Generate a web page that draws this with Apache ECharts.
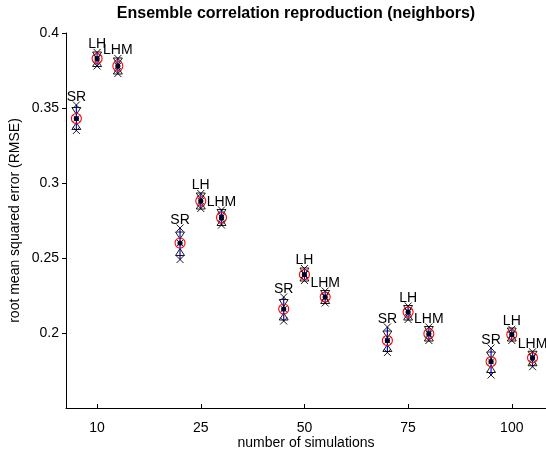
<!DOCTYPE html>
<html>
<head>
<meta charset="utf-8">
<script src="https://cdn.jsdelivr.net/npm/echarts@6/dist/echarts.min.js"></script>
<style>
  html, body { margin: 0; padding: 0; background: #fff; }
  #chart { width: 546px; height: 450px; }
</style>
</head>
<body>
<div id="chart"></div>
<script>
// Tick labels for the simulation-count groups (placed at positions 1..5)
const xTickPositions = [1, 2, 3, 4, 5];
const xTickLabels = ['10', '25', '50', '75', '100'];
const yTickValues = [0.2, 0.25, 0.3, 0.35, 0.4];

// Sampling methods
const methods = ['SR', 'LH', 'LHM'];

// x position of each method within a group
const srX  = [0.8, 1.8, 2.8, 3.8, 4.8];
const lhX  = [1, 2, 3, 4, 5];
const lhmX = [1.2, 2.2, 3.2, 4.2, 5.2];

// RMSE statistics per method: centre, upper/lower quantile, max, min
const srMean  = [0.343, 0.260, 0.216, 0.195, 0.181];
const srHi    = [0.348, 0.265, 0.220, 0.199, 0.185];
const srLo    = [0.338, 0.254, 0.211, 0.190, 0.176];
const srMax   = [0.352, 0.270, 0.224, 0.204, 0.190];
const srMin   = [0.335, 0.249, 0.208, 0.187, 0.172];

const lhMean  = [0.383, 0.288, 0.239, 0.214, 0.199];
const lhHi    = [0.385, 0.291, 0.241, 0.216, 0.201];
const lhLo    = [0.380, 0.285, 0.237, 0.211, 0.197];
const lhMax   = [0.387, 0.293, 0.243, 0.218, 0.2025];
const lhMin   = [0.378, 0.283, 0.235, 0.209, 0.195];

const lhmMean = [0.378, 0.277, 0.224, 0.1995, 0.1835];
const lhmHi   = [0.381, 0.280, 0.226, 0.202, 0.1855];
const lhmLo   = [0.375, 0.274, 0.222, 0.197, 0.1805];
const lhmMax  = [0.383, 0.282, 0.228, 0.204, 0.1875];
const lhmMin  = [0.373, 0.272, 0.220, 0.195, 0.1775];

const FONT = '"Liberation Sans", Arial, Helvetica, sans-serif';

function rows(xs, mean, hi, lo, mx, mn) {
  return xs.map((x, i) => [x, mean[i], hi[i], lo[i], mx[i], mn[i]]);
}

function renderGlyph(name) {
  return function (params, api) {
    const c   = api.coord([api.value(0), api.value(1)]);
    const hi  = api.coord([api.value(0), api.value(2)]);
    const lo  = api.coord([api.value(0), api.value(3)]);
    const top = api.coord([api.value(0), api.value(4)]);
    const bot = api.coord([api.value(0), api.value(5)]);
    const x = c[0];
    const k = 3.5;   // half size of the x marks
    const tw = 4.5;  // half width of the triangles
    const th = 3.5;  // half height of the triangles
    const black = { stroke: '#000', lineWidth: 0.9, fill: null };
    const children = [
      // range line
      { type: 'line', shape: { x1: x, y1: top[1], x2: x, y2: bot[1] },
        style: { stroke: '#0000ff', lineWidth: 1.2 } },
      // upper quantile: downward triangle
      { type: 'polygon', shape: { points: [[x - tw, hi[1] - th], [x + tw, hi[1] - th], [x, hi[1] + th]] },
        style: black },
      // lower quantile: upward triangle
      { type: 'polygon', shape: { points: [[x - tw, lo[1] + th], [x + tw, lo[1] + th], [x, lo[1] - th]] },
        style: black },
      // max / min crosses
      { type: 'line', shape: { x1: x - k, y1: top[1] - k, x2: x + k, y2: top[1] + k }, style: black },
      { type: 'line', shape: { x1: x - k, y1: top[1] + k, x2: x + k, y2: top[1] - k }, style: black },
      { type: 'line', shape: { x1: x - k, y1: bot[1] - k, x2: x + k, y2: bot[1] + k }, style: black },
      { type: 'line', shape: { x1: x - k, y1: bot[1] + k, x2: x + k, y2: bot[1] - k }, style: black },
      // centre marker
      { type: 'circle', shape: { cx: x, cy: c[1], r: 5 },
        style: { stroke: '#ff0000', lineWidth: 1.1, fill: null } },
      { type: 'circle', shape: { cx: x, cy: c[1], r: 2.6 },
        style: { fill: '#000033' } },
      { type: 'line', shape: { x1: x - 3, y1: c[1] - 3, x2: x + 3, y2: c[1] + 3 }, style: black },
      { type: 'line', shape: { x1: x - 3, y1: c[1] + 3, x2: x + 3, y2: c[1] - 3 }, style: black },
      // method name above the maximum
      { type: 'text', x: x, y: top[1] - 1,
        style: { text: name, fill: '#000', font: '14px ' + FONT, align: 'center', verticalAlign: 'bottom' } }
    ];
    return { type: 'group', children: children };
  };
}

const chart = echarts.init(document.getElementById('chart'), null, { renderer: 'canvas' });

const seriesData = [
  rows(srX, srMean, srHi, srLo, srMax, srMin),
  rows(lhX, lhMean, lhHi, lhLo, lhMax, lhMin),
  rows(lhmX, lhmMean, lhmHi, lhmLo, lhmMax, lhmMin)
];

chart.setOption({
  animation: false,
  backgroundColor: '#ffffff',
  title: {
    text: 'Ensemble correlation reproduction (neighbors)',
    left: 291,
    top: 1,
    textAlign: 'center',
    textStyle: { fontFamily: FONT, fontSize: 16, fontWeight: 'bold', color: '#000' }
  },
  grid: { left: 66, top: 33, width: 480, height: 375, containLabel: false, outerBoundsMode: 'none' },
  xAxis: {
    type: 'value',
    min: 0.7,
    max: 5.33,
    name: 'number of simulations',
    nameLocation: 'middle',
    nameGap: 28,
    nameMoveOverlap: false,
    nameTextStyle: { fontFamily: FONT, fontSize: 14, color: '#000' },
    axisLine: { show: true, onZero: false, lineStyle: { color: '#000', width: 1 } },
    axisTick: { show: true, inside: true, length: 4, customValues: xTickPositions,
      lineStyle: { color: '#000' } },
    axisLabel: {
      show: true, margin: 13, color: '#000', fontFamily: FONT, fontSize: 14,
      customValues: xTickPositions,
      formatter: v => xTickLabels[xTickPositions.indexOf(Math.round(v))] || ''
    },
    splitLine: { show: false }
  },
  yAxis: {
    type: 'value',
    min: 0.15,
    max: 0.4,
    name: 'root mean squared error (RMSE)',
    nameLocation: 'middle',
    nameGap: 44,
    nameMoveOverlap: false,
    nameTextStyle: { fontFamily: FONT, fontSize: 14, color: '#000' },
    axisLine: { show: true, onZero: false, lineStyle: { color: '#000', width: 1 } },
    axisTick: { show: true, inside: false, length: 4, customValues: yTickValues,
      lineStyle: { color: '#000' } },
    axisLabel: {
      show: true, margin: 7, color: '#000', fontFamily: FONT, fontSize: 14,
      customValues: yTickValues,
      formatter: v => String(parseFloat(v.toFixed(2)))
    },
    splitLine: { show: false }
  },
  series: methods.map((m, i) => ({
    type: 'custom',
    name: m,
    clip: false,
    renderItem: renderGlyph(m),
    encode: { x: 0, y: [1, 2, 3, 4, 5] },
    data: seriesData[i]
  }))
});
</script>
</body>
</html>
